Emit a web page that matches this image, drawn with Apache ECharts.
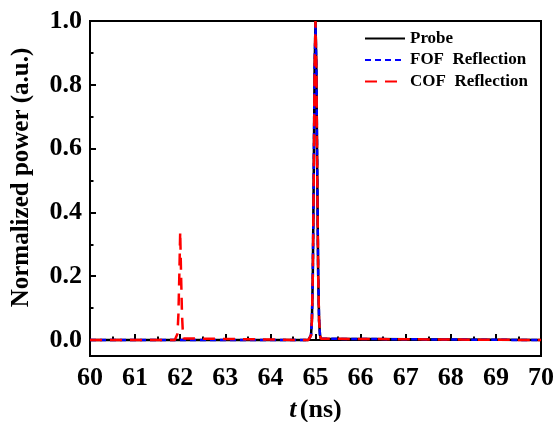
<!DOCTYPE html>
<html>
<head>
<meta charset="utf-8">
<script src="https://cdn.jsdelivr.net/npm/echarts@6/dist/echarts.min.js"></script>
<style>
  html, body { margin: 0; padding: 0; background: #fff; }
  #chart { width: 556px; height: 422px; }
</style>
</head>
<body>
<div id="chart"></div>
<script>
// Time samples (ns) and normalized power for each trace
const probeT = [60, 64.84, 64.88, 64.9, 64.92, 64.94, 64.96, 64.98, 65, 65.02, 65.04, 65.06, 65.08, 65.1, 65.12, 65.16, 70];
const probeV = [0, 0, 0.004, 0.015, 0.06, 0.2, 0.5, 0.85, 1.0, 0.85, 0.5, 0.2, 0.06, 0.015, 0.004, 0, 0];

const fofT = [60, 64.84, 64.88, 64.9, 64.92, 64.94, 64.96, 64.98, 65, 65.02, 65.04, 65.06, 65.08, 65.1, 65.12, 65.16, 70];
const fofV = [0, 0, 0.004, 0.015, 0.06, 0.2, 0.5, 0.85, 0.99, 0.85, 0.5, 0.2, 0.06, 0.015, 0.004, 0, 0];

const cofT = [60, 61.88, 61.92, 61.94, 61.96, 61.98, 62, 62.02, 62.04, 62.06, 62.08, 62.12,
              64.84, 64.88, 64.9, 64.92, 64.94, 64.96, 64.98, 65, 65.02, 65.04, 65.06, 65.08, 65.1, 65.12, 65.16, 70];
const cofV = [0, 0, 0.005, 0.02, 0.08, 0.2, 0.34, 0.2, 0.08, 0.02, 0.005, 0,
              0, 0.004, 0.015, 0.06, 0.2, 0.5, 0.85, 1.0, 0.85, 0.5, 0.2, 0.06, 0.015, 0.004, 0, 0];

const yMajorTicks = [0, 0.2, 0.4, 0.6, 0.8, 1.0];
const yMinorTicks = [0.1, 0.3, 0.5, 0.7, 0.9];
const seriesNames = ['Probe', 'FOF  Reflection', 'COF  Reflection'];

const zip = (t, v) => t.map((x, i) => [x, v[i]]);
const serif = 'Liberation Serif';

const chart = echarts.init(document.getElementById('chart'), null, { renderer: 'canvas' });

chart.setOption({
  animation: false,
  backgroundColor: '#fff',
  grid: {
    left: 90, right: 15, top: 21, bottom: 66,
    outerBoundsMode: 'none',
    containLabel: false,
    show: true, borderColor: '#000', borderWidth: 2
  },
  legend: {
    orient: 'vertical',
    left: 359, top: 25,
    itemWidth: 40, itemHeight: 10, itemGap: 4.5,
    data: seriesNames,
    itemStyle: { opacity: 0 },
    textStyle: { fontFamily: serif, fontWeight: 'bold', fontSize: 17, color: '#000' }
  },
  xAxis: {
    type: 'value',
    min: 60, max: 70, interval: 1,
    name: '{i|t} {n|(ns)}',
    nameLocation: 'middle',
    nameGap: 41,
    nameTextStyle: {
      rich: {
        i: { fontFamily: serif, fontWeight: 'bold', fontStyle: 'italic', fontSize: 26, color: '#000' },
        n: { fontFamily: serif, fontWeight: 'bold', fontSize: 26, color: '#000' }
      }
    },
    axisLine: { lineStyle: { color: '#000', width: 2 } },
    axisTick: { inside: true, length: 6, lineStyle: { color: '#000', width: 2 } },
    minorTick: { show: true, splitNumber: 2, length: 3.5, lineStyle: { color: '#000', width: 2 } },
    axisLabel: { margin: 9, fontFamily: serif, fontWeight: 'bold', fontSize: 26, color: '#000' },
    splitLine: { show: false }
  },
  yAxis: [
    {
      type: 'value',
      min: -0.05, max: 1.0,
      name: 'Normalized power (a.u.)',
      nameLocation: 'middle',
      nameGap: 56,
      nameTextStyle: {
        fontFamily: serif, fontWeight: 'bold', fontSize: 25, color: '#000',
        padding: [0, 0, 0, 22]
      },
      axisLine: { lineStyle: { color: '#000', width: 2 } },
      axisTick: { inside: true, length: 6, customValues: yMajorTicks, lineStyle: { color: '#000', width: 2 } },
      axisLabel: {
        margin: 8, customValues: yMajorTicks,
        formatter: v => v.toFixed(1),
        fontFamily: serif, fontWeight: 'bold', fontSize: 26, color: '#000'
      },
      splitLine: { show: false }
    },
    {
      type: 'value',
      position: 'left',
      min: -0.05, max: 1.0,
      axisLine: { show: false },
      axisTick: { inside: true, length: 3.5, customValues: yMinorTicks, lineStyle: { color: '#000', width: 2 } },
      axisLabel: { show: false },
      splitLine: { show: false }
    }
  ],
  series: [
    {
      name: seriesNames[0], type: 'line', data: zip(probeT, probeV),
      symbol: 'none', color: '#000',
      lineStyle: { color: '#000', width: 2.5, type: 'solid' }, z: 2
    },
    {
      name: seriesNames[1], type: 'line', data: zip(fofT, fofV),
      symbol: 'none', color: '#0000ff',
      lineStyle: { color: '#0000ff', width: 2.5, type: [6, 4] }, z: 3
    },
    {
      name: seriesNames[2], type: 'line', data: zip(cofT, cofV),
      symbol: 'none', color: '#ff0000',
      lineStyle: { color: '#ff0000', width: 2.5, type: [12, 8] }, z: 4
    }
  ]
});
</script>
</body>
</html>
